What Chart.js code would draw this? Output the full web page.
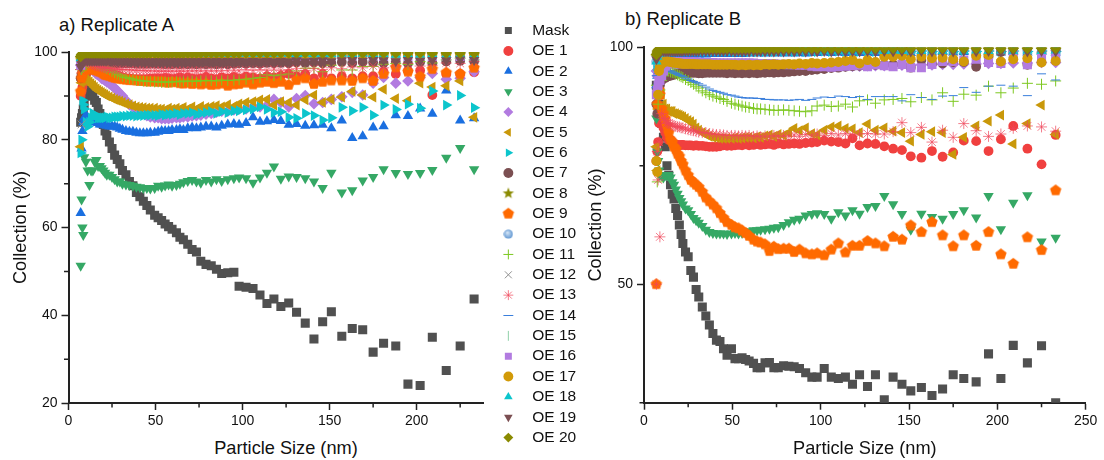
<!DOCTYPE html>
<html lang="en">
<head>
    <meta charset="UTF-8">
    <title>Collection vs Particle Size</title>
    <script src="https://cdn.jsdelivr.net/npm/chart.js"></script>
    <style>
        body { margin: 0; background: #fff; font-family: "Liberation Sans", Arial, sans-serif; color: #111; }
        canvas { position: absolute; top: 0; }
        .panel-title { position: absolute; font-size: 18.5px; white-space: nowrap; }
        .axis-title { position: absolute; font-size: 18.2px; white-space: nowrap; transform: translateX(-50%); }
    </style>
</head>
<body>
    <div class="panel-title" style="left:59px;top:14px">a) Replicate A</div>
    <div class="panel-title" style="left:625px;top:8px">b) Replicate B</div>
    <div class="axis-title" style="left:286px;top:438px">Particle Size (nm)</div>
    <canvas id="chartA" width="490" height="460" style="left:0"></canvas>
    <canvas id="chartB" width="529" height="460" style="left:575px"></canvas>
    <canvas id="legend" width="200" height="442" style="left:496px;top:18px"></canvas>

<script>
// particle sizes, nm (shared by both replicates)
const sizes = [
7,7.5,8,8.5,9,10,11,12,13,14,15,16,17,18,19,20,21,22,
23.5,25,26.5,28,29.5,31,33,35,37,39,41,43,45,47,
49.5,51.5,53.5,55.5,57.5,59.5,62,64,66,68.5,71,73.5,76,79,
82,85,88,91.5,95,98,102,106,110,114,118,122,
126.5,131,136,141,146,151,157,163,169,175,
181,188,195,202,209,217,225,233];

const seriesNames = ['Mask','OE 1','OE 2','OE 3','OE 4','OE 5','OE 6','OE 7','OE 8','OE 9','OE 10',
    'OE 11','OE 12','OE 13','OE 14','OE 15','OE 16','OE 17','OE 18','OE 19','OE 20'];

const xTicksA = [0,50,100,150,200], xMinorA = [25,75,125,175,225];
const yTicksA = [20,40,60,80,100], yMinorA = [30,50,70,90];
const xTicksB = [0,50,100,150,200,250], xMinorB = [25,75,125,175,225];
const yTicksB = [50,100], yMinorB = [25,75];

// Replicate A
const maskA = [84,85,86,87,88,90,91,92,91,90,89,88.5,87,86,85,83.5,82,81,
79.5,78,76.5,75.5,74.5,73,72,70.5,69.5,68,67,66,65,64,
62.8,62.2,61.6,60.8,60.2,59.6,58.8,57.8,57.2,56.2,55,54.4,52.3,51.6,
51.3,50.5,49.5,49.7,49.8,46.6,46.4,46.1,44.6,42.7,43.7,42,
42.8,40.7,38.2,34.6,38.5,40.8,35.2,37,36.7,31.6,
33.6,33,24.3,24,35,27.4,33,43.7];
const oe1A = [90,91,92,93,94,95,95.5,96,96.5,96.5,96.5,96.5,96.3,96,96,95.8,95.6,95.4,
95.2,95,94.8,94.6,94.4,94.2,94,94,93.8,93.8,93.8,93.8,93.8,93.9,
94,94,93.9,94.1,94,93.8,94,94.2,94,94.2,94,93.8,94,94.3,
94,93.8,94.2,94,94.3,94,94.4,94.2,94,94.5,94.2,94.6,
95,94.5,95,94,95,94,94.5,94,94.5,94.5,
95.5,95,95.8,95.8,90.2,95,95,95.4];
const oe2A = [63.3,78,82,84,85,85.5,85,84.5,84.5,84,84,84,83.8,83.5,83.5,83.5,83.3,83.2,
83,83,83,82.8,82.5,82.3,82,81.8,81.8,81.6,81.5,81.5,81.5,81.6,
81.6,81.8,82,82,82,82.2,82.2,82.4,82.2,82.6,82.8,82.6,82.8,83,
83,82.8,83.2,83.5,83.6,83.4,83.8,85.1,84.1,84.2,84.5,84.3,
83.4,83.6,83.2,83.3,83.4,82.6,84.4,80.4,80.8,82.8,
83.1,85.6,85.4,87.1,85.9,91.2,84.4,84.9];
const oe3A = [51.3,66.4,60,58.3,76,75,73,69.7,73,73,75,75.4,74,74,73.5,73,72.5,72,
72,71.5,71,70.5,70.5,70,69.8,69.7,69.5,69.3,69.2,69,69,68.9,
69,69.5,69.3,69.6,69.8,69.5,69.7,70,70.3,70.6,70.8,70.5,70.2,70.8,
70.5,71,70.6,71,71.2,71.4,71.2,70.2,71.4,72.5,73.9,71.1,
71.6,71.5,71.2,70.5,69,72.5,68,68.5,70.7,71.5,
73.3,72.4,72.2,72.4,73.1,75.9,78.1,73.3];
const oe4A = [97,97.5,98,98,98,97.8,97.5,97,96.5,96,95.5,95,94.8,94.5,94,93.8,93.5,93.2,
92.8,92.3,91.8,91.2,90.5,90,89,88,87.5,87,86.5,86,85.5,85.2,
85,85,84.8,84.8,84.8,84.9,85,85,85.2,85.2,85.4,85.5,85.6,85.8,
86,86.3,86.5,86.5,86.8,87,87,87.5,87.5,87.8,89.2,88.5,
87.5,89.4,90.1,88.2,88.5,89.2,89.8,90.8,90.2,92.9,
94.2,92.9,93.4,94.2,95.1,93.8,94,95.5];
const oe5A = [78.4,93,93.5,93.5,94,93.8,93.5,93.2,92.8,92.4,92,91.6,91.3,91,90.8,90.5,90.3,90,
89.8,89.5,89.2,89,88.8,88.5,88.2,88,87.7,87.5,87.4,87.3,87.2,87.2,
87.2,87,87,86.8,87.2,87,87.2,87,87.4,87,87.5,87,87.6,87.4,
87.6,87.8,87.5,88,87.6,88.2,88.5,88.7,89.1,89.2,87.9,88.7,
88.5,87.9,89.1,90.2,88.5,89.2,89.7,91,90.2,89.7,
91.5,89.4,88.9,92.9,92,92.3,93.4,85.1];
const oe6A = [77,80,89,88,87,84,83,84,85,86,85.5,85.5,85,85,85,85,85,85.2,
85,85,85.2,85.2,85.2,85.4,85.4,85.5,85.5,85.4,85.5,85.5,85.6,85.6,
85.6,85.5,85.8,85.6,85.8,85.8,86,85.7,86,86,86.2,85.8,86,86.2,
86.4,86,86.4,86.2,86.6,86.6,86.8,87,87.5,86.9,86.2,86.4,
85.1,84.9,86,85.5,84.5,85,87.4,86.6,87.4,85.6,
87.9,86.9,88.1,87.2,91.1,87.9,90.1,87.3];
const oe7A = [94,95,96,96.5,97,97.2,97.4,97.5,97.5,97.6,97.6,97.6,97.6,97.6,97.6,97.5,97.5,97.5,
97.5,97.5,97.4,97.4,97.5,97.4,97.4,97.4,97.4,97.3,97.3,97.3,97.3,97.3,
97.3,97.3,97.3,97.2,97.3,97.2,97.3,97.2,97.3,97.2,97.3,97.2,97.3,97.2,
97.3,97.2,97.3,97.2,97.3,97.4,97.3,97.4,97.3,97.5,97.4,97.5,
97.4,97.6,97.5,97.6,97.4,97.5,97.7,97.5,97.7,97.6,
97.5,97.8,97.4,97.7,97.5,97.8,98,97.9];
const oe8A = [98.5,99,99.2,99.3,99.4,99.5,99.5,99.6,99.6,99.6,99.6,99.6,99.6,99.6,99.6,99.6,99.6,99.6,
99.6,99.6,99.6,99.7,99.6,99.7,99.6,99.7,99.6,99.7,99.6,99.7,99.6,99.7,
99.6,99.7,99.6,99.7,99.6,99.7,99.6,99.7,99.6,99.7,99.6,99.7,99.6,99.7,
99.6,99.7,99.6,99.7,99.6,99.7,99.6,99.7,99.6,99.7,99.6,99.7,
99.6,99.7,99.6,99.7,99.6,99.7,99.6,99.7,99.6,99.7,
99.6,99.7,99.6,99.7,99.6,99.7,99.6,99.7];
const oe9A = [91,94,95,95.5,96,96,96.2,96.3,96.2,96,95.9,95.8,95.6,95.5,95.3,95,94.8,94.7,
94.5,94.3,94.1,94,93.9,93.8,93.7,93.6,93.6,93.5,93.4,93.4,93.3,93.3,
93.3,93.2,93.3,93.1,93,93.2,93.1,92.9,92.8,93,92.7,92.9,92.6,92.8,
92.5,92.6,92.8,92.3,92.6,92.7,93,92.6,93,93.2,92.9,93.2,
92.5,93.6,94,92.7,93.2,93.5,93.5,93.4,94,93.4,
95,96.5,95.5,94.4,96.1,95.3,95,96.4];
const oe10A = [98.8,99,99.2,99.3,99.4,99.5,99.5,99.5,99.6,99.5,99.6,99.5,99.6,99.5,99.6,99.5,99.6,99.5,
99.6,99.5,99.6,99.5,99.6,99.5,99.6,99.5,99.6,99.5,99.6,99.5,99.6,99.5,
99.6,99.5,99.6,99.5,99.6,99.5,99.6,99.5,99.6,99.5,99.6,99.5,99.6,99.5,
99.6,99.5,99.6,99.5,99.6,99.5,99.6,99.5,99.6,99.5,99.6,99.5,
99.6,99.5,99.6,99.5,99.6,99.5,99.6,99.5,99.6,99.5,
99.6,99.5,99.6,99.5,99.6,99.5,99.6,99.5];
const oe11A = [96,96,96.5,96.5,96.8,97,97.5,98,98,97.8,97.6,97.4,97.2,97,96.8,96.6,96.4,96.2,
96,95.6,95.3,95,94.8,94.5,94.2,94,93.8,93.6,93.5,93.4,93.3,93.3,
93.2,93.2,93.1,93.2,93.1,93.2,93.3,93.2,93.4,93.3,93.4,93.3,93.5,93.4,
93.5,93.4,93.6,93.5,93.6,93.7,93.8,94,94.2,94.8,94.6,94.8,
95,95.7,96.3,96.3,95.5,97,95.9,95.9,96.7,96.7,
97.2,97.4,97.2,97.8,97.5,98.2,98.6,98.2];
const oe12A = [98,83.5,98,98.5,99,99.2,99.3,99.4,99.4,99.4,99.4,99.4,99.5,99.4,99.5,99.4,99.5,99.4,
99.5,99.4,99.5,99.4,99.5,99.4,99.5,99.4,99.5,99.4,99.5,99.4,99.5,99.4,
99.5,99.4,99.5,99.4,99.5,99.4,99.5,99.4,99.5,99.4,99.5,99.4,99.5,99.4,
99.5,99.4,99.5,99.4,99.5,99.4,99.5,99.4,99.5,99.4,99.5,99.4,
99.5,99.4,99.5,99.4,99.5,99.4,99.5,99.4,99.5,99.4,
99.5,99.4,99.5,99.4,99.5,99.4,99.5,99.4];
const oe13A = [96,97,97,97.5,97.8,97.8,97.6,97.5,97.3,97.2,97,96.9,96.8,96.7,96.6,96.5,96.4,96.4,
96.3,96.2,96.2,96.1,96,96,96,95.9,95.9,95.8,95.8,95.8,95.7,95.7,
95.7,95.6,95.7,95.6,95.7,95.6,95.7,95.6,95.7,95.6,95.8,95.6,95.8,95.6,
95.8,95.6,95.8,95.7,95.9,95.7,96,95.8,96,95.8,96.1,95.8,
96,96.2,95.8,96.2,96,96.4,96.2,96.6,96.4,96.8,
96.4,96.8,97.4,96.8,97,97.5,97.4,97.8];
const oe14A = [98,98.5,99,99.2,99.3,99.4,99.4,99.5,99.5,99.5,99.5,99.5,99.5,99.5,99.5,99.5,99.5,99.5,
99.5,99.5,99.5,99.5,99.5,99.5,99.5,99.5,99.5,99.5,99.5,99.5,99.5,99.5,
99.4,99.5,99.4,99.5,99.4,99.5,99.4,99.5,99.4,99.5,99.4,99.5,99.4,99.5,
99.4,99.5,99.4,99.5,99.4,99.5,99.4,99.5,99.4,99.5,99.4,99.5,
99.4,99.3,99.4,99.3,99.4,99.3,99.4,99.3,99.2,99.3,
99.2,99.3,99.2,99.3,99.1,99.2,99.1,99.2];
const oe15A = [98.5,99,99.2,99.3,99.4,99.5,99.5,99.6,99.6,99.6,99.6,99.6,99.6,99.6,99.6,99.6,99.6,99.6,
99.6,99.6,99.6,99.6,99.6,99.6,99.6,99.6,99.6,99.6,99.6,99.6,99.6,99.6,
99.6,99.6,99.6,99.6,99.6,99.6,99.6,99.6,99.6,99.6,99.6,99.6,99.6,99.6,
99.5,99.6,99.5,99.6,99.5,99.6,99.5,99.6,99.5,99.6,99.5,99.6,
99.5,99.6,99.5,99.6,99.5,99.6,99.5,99.6,99.5,99.6,
99.5,99.6,99.5,99.6,99.5,99.6,99.5,99.6];
const oe16A = [97,97.8,98.5,99,99.1,99.2,99.3,99.3,99.3,99.3,99.3,99.3,99.3,99.3,99.3,99.3,99.3,99.3,
99.3,99.3,99.3,99.2,99.3,99.2,99.3,99.2,99.3,99.2,99.3,99.2,99.3,99.2,
99.3,99.2,99.3,99.2,99.3,99.2,99.3,99.2,99.3,99.2,99.3,99.2,99.3,99.2,
99.3,99.2,99.3,99.2,99.3,99.2,99.3,99.2,99.3,99.2,99.3,99.2,
99.2,99.1,99.2,99.1,99.2,99.1,99.2,99.1,99.2,99.1,
99,99.1,99,99.1,99,99.1,99,99.1];
const oe17A = [98.5,99,99.2,99.4,99.5,99.5,99.6,99.6,99.6,99.6,99.6,99.6,99.6,99.6,99.6,99.6,99.6,99.6,
99.6,99.6,99.6,99.6,99.6,99.6,99.6,99.6,99.6,99.6,99.6,99.6,99.6,99.6,
99.6,99.5,99.6,99.5,99.6,99.5,99.6,99.5,99.6,99.5,99.6,99.5,99.6,99.5,
99.6,99.5,99.6,99.5,99.6,99.5,99.6,99.5,99.6,99.5,99.6,99.5,
99.5,99.4,99.5,99.4,99.5,99.4,99.5,99.4,99.5,99.4,
99.4,99.5,99.4,99.5,99.4,99.5,99.4,99.5];
const oe18A = [98.6,99,99.3,99.5,99.6,99.6,99.7,99.7,99.7,99.7,99.7,99.7,99.7,99.7,99.7,99.7,99.7,99.7,
99.7,99.7,99.7,99.7,99.7,99.7,99.7,99.7,99.7,99.7,99.7,99.7,99.7,99.7,
99.6,99.7,99.6,99.7,99.6,99.7,99.6,99.7,99.6,99.7,99.6,99.7,99.6,99.7,
99.6,99.7,99.6,99.7,99.6,99.7,99.6,99.7,99.6,99.7,99.6,99.7,
99.6,99.5,99.6,99.5,99.6,99.5,99.6,99.5,99.6,99.5,
99.5,99.4,99.5,99.4,99.5,99.4,99.5,99.4];
const oe19A = [96.6,97.2,97.6,97.8,97.9,98,98,98,98,98,98,98,98,98,98,98,98,98,
98,97.9,98,97.9,98,97.9,98,97.9,98,97.9,98,97.9,98,97.9,
97.9,98,97.9,98,97.9,98,97.9,98,97.9,98,97.9,98,97.9,98,
97.9,98,97.9,98,97.9,98,97.9,98,97.9,98,97.9,98,
97.9,98.1,97.9,98,98.1,97.9,98.1,98.2,98,98.2,
98.1,97.9,98.2,98,98.2,98.1,98.3,98.2];
const oe20A = [99,99.4,99.6,99.7,99.8,99.8,99.8,99.8,99.8,99.8,99.8,99.8,99.8,99.8,99.8,99.8,99.8,99.8,
99.8,99.8,99.8,99.8,99.8,99.8,99.8,99.8,99.8,99.8,99.8,99.8,99.8,99.8,
99.8,99.8,99.8,99.8,99.8,99.8,99.8,99.8,99.8,99.8,99.8,99.8,99.8,99.8,
99.8,99.8,99.8,99.8,99.8,99.8,99.8,99.8,99.8,99.8,99.8,99.8,
99.8,99.8,99.8,99.8,99.8,99.8,99.8,99.8,99.8,99.8,
99.8,99.8,99.8,99.8,99.8,99.8,99.8,99.8];

// Replicate B
const maskB = [92,91,90,88,87,84,81,79,75,73,71,69,68,66,64.5,62.5,60.5,58.6,
56.8,55.8,52.9,51.5,48.9,47.3,45.2,43.3,41.4,39.6,38.2,37.9,36.4,35,
36.4,34.3,34.3,34.5,34.1,33.8,33.3,32.4,32.4,33.4,33.5,32.4,32.4,32.8,
32.7,32.6,32.2,31.3,30.4,30.4,32.2,30.4,30.1,30.4,28.9,30.9,
28.4,30.9,25.6,30.4,28.9,27.5,28.2,26.5,27.9,30.9,
30.1,29.4,35.3,30.1,37.1,33.4,37,25];
const oe1B = [76,78,80,84,85,84,83,82,81,80.5,80.5,80,79.5,79.5,79.4,79.3,79.4,79.4,
79.3,79.3,79.3,79.2,79.3,79.2,79.2,79.1,79,79,79,79.1,79.3,79.2,
79.2,79.3,79.4,79.3,79.5,79.3,79.4,79.6,79.4,79.5,79.6,79.4,79.7,79.5,
79.6,79.7,79.6,79.8,79.9,80,80.3,80.1,80,79.7,80.8,79.3,
79.7,79.6,79.1,78.6,78.3,77,76.7,78.1,76.9,77.8,
80.3,80.2,78.1,80.6,83.4,78.6,75.3,81.5];
const oe2B = [92,94,96,97,97.5,98,98.2,98.3,98.4,98.4,98.5,98.5,98.5,98.5,98.6,98.5,98.6,98.5,
98.6,98.5,98.6,98.5,98.6,98.5,98.6,98.5,98.6,98.6,98.7,98.6,98.7,98.6,
98.7,98.6,98.7,98.6,98.7,98.7,98.8,98.7,98.8,98.7,98.8,98.7,98.8,98.7,
98.8,98.7,98.8,98.7,98.8,98.8,98.9,98.8,98.9,98.8,98.9,98.8,
98.9,98.8,98.9,98.8,98.9,98.8,98.9,98.9,99,98.9,
99,98.9,99,98.9,99,98.9,99,98.9];
const oe3B = [85,78,76,74,73,73,72.5,73,73,73,72.5,71.5,71,70,69.1,68.2,67.5,66.8,
66,65.6,64.8,64,63.5,63,62.3,61.5,61,60.8,60.7,60.7,60.7,60.6,
60.7,60.8,60.7,60.8,61,61.2,61.4,61.4,61.5,61.6,61.7,61.9,62,62.5,
63.1,63.6,63.8,64.5,64.8,65,64.8,63.8,65.2,64.5,65.6,64.9,
66.3,66.5,68.6,66.9,64.8,61.5,64.9,64.2,63.8,64.8,
65.6,64.1,68.6,61.6,67.2,68.8,59,59.8];
const oe4B = [95,94,95,96,96.4,96.6,96.6,96.6,96.6,96.6,96.6,96.5,96.5,96.5,96.5,96.5,96.5,96.5,
96.5,96.4,96.5,96.4,96.5,96.4,96.5,96.4,96.4,96.4,96.4,96.4,96.4,96.3,
96.3,96.3,96.3,96.3,96.2,96.3,96.2,96.2,96.2,96.2,96.1,96.1,96.1,96,
96,96,95.9,95.9,95.9,95.9,95.9,95.9,96,96,96,96,
96.1,96.1,96.1,96.2,96.2,96.2,96.3,96.3,96.4,96.4,
96.5,96.5,96.6,96.6,96.7,96.7,96.8,96.8];
const oe5B = [79,74,87,90,92,90,88,87,87,86.5,86.5,86.5,86,86,85.8,85.7,85.5,85.3,
85,84.6,84.3,83.8,83,82.5,82,81.6,81.2,81,80.9,80.8,80.8,80.8,
80.8,80.9,80.8,80.9,81,81,80.9,81.1,81,81.3,81.5,81.2,81.6,81.4,
82,82.9,82.4,83,81.8,81.5,82.5,83.2,83.4,82.9,82.8,82,
83.8,82.5,83,82.3,82,80.2,81.6,82.2,82,77.4,
81,83.4,84.4,85.7,79.6,83.9,87.8,81.6];
const oe6B = [96,97,98,98.5,98.8,99,99.1,99.1,99.2,99.2,99.2,99.2,99.2,99.2,99.2,99.2,99.2,99.2,
99.2,99.2,99.2,99.2,99.2,99.2,99.2,99.2,99.2,99.2,99.2,99.2,99.2,99.2,
99.2,99.1,99.2,99.1,99.2,99.1,99.2,99.1,99.2,99.1,99.2,99.1,99.2,99.1,
99.2,99.1,99.2,99.1,99.2,99.1,99.2,99.1,99.2,99.1,99.2,99.1,
99.2,99.1,99.2,99.1,99.2,99.1,99.2,99.1,99.2,99.1,
99.2,99.1,99.2,99.1,99.2,99.1,99.2,99.1];
const oe7B = [88,86,88,91,92,93,93.5,93.5,93.8,94,94,94.2,94.2,94.4,94.4,94.5,94.5,94.5,
94.5,94.5,94.6,94.6,94.6,94.5,94.5,94.6,94.6,94.6,94.6,94.6,94.6,94.5,
94.6,94.5,94.6,94.5,94.6,94.5,94.6,94.5,94.6,94.6,94.7,94.6,94.7,94.7,
94.8,94.9,95,95,95.2,95.3,95.4,95.6,95.7,95.9,96,96.1,
96.2,96.3,96.3,96.4,96.4,95.7,97.3,96.6,96.6,96.9,
96.9,95.9,98,99,99,96.3,98.9,99.4];
const oe8B = [98,99,99.2,99.4,99.5,99.5,99.6,99.6,99.6,99.6,99.6,99.6,99.6,99.6,99.6,99.6,99.6,99.6,
99.6,99.6,99.7,99.6,99.7,99.6,99.7,99.6,99.7,99.6,99.7,99.6,99.7,99.6,
99.6,99.7,99.6,99.7,99.6,99.7,99.6,99.7,99.6,99.7,99.6,99.7,99.6,99.7,
99.6,99.7,99.6,99.7,99.6,99.7,99.6,99.7,99.6,99.7,99.6,99.7,
99.6,99.7,99.6,99.7,99.6,99.7,99.6,99.7,99.6,99.7,
99.6,99.7,99.6,99.7,99.6,99.7,99.6,99.7];
const oe9B = [50,88,90,91,90,87,86,85,83.5,82,80.5,80,79,78.5,77.5,77,76,75.3,
74,73,72,71.5,71,70.5,69.5,68.3,67.5,66.8,66,65,64,63.1,
62.5,62,61.8,61.3,60.8,60.2,59.4,59,58.8,58.4,57,57.9,57.4,57.5,
57.5,56.8,57.3,56.5,56.3,56.5,56.1,57.3,58.6,56.7,58.1,58.1,
59.1,58.6,58,60,59.4,62.4,61,63.1,60.3,58,
60.3,58.1,61,56.3,54.3,59.9,57.2,69.8];
const oe10B = [97,98,98.8,99,99.2,99.4,99.5,99.5,99.5,99.5,99.5,99.5,99.5,99.5,99.5,99.5,99.5,99.5,
99.5,99.5,99.5,99.5,99.5,99.5,99.5,99.5,99.5,99.5,99.5,99.5,99.5,99.5,
99.5,99.4,99.5,99.4,99.5,99.4,99.5,99.4,99.5,99.4,99.5,99.4,99.5,99.4,
99.5,99.4,99.5,99.4,99.5,99.4,99.5,99.4,99.5,99.4,99.5,99.4,
99.5,99.4,99.5,99.4,99.5,99.4,99.5,99.4,99.5,99.4,
99.5,99.4,99.5,99.4,99.5,99.4,99.5,99.4];
const oe11B = [92,71.6,88,90,91,93,94,94.5,95,95,94.8,94.7,94.6,94.4,94.2,94,93.8,93.6,
93.2,93,92.6,92.2,91.8,91.4,90.8,90.4,90,89.7,89.5,89.2,89,88.6,
88.2,88,87.8,87.6,87.4,87.3,87.1,87,87,86.9,86.8,86.7,86.7,86.8,
86.7,86.6,86.5,86.4,86.6,87.6,87.8,87.5,87.6,88,87.4,88.7,
88.9,88.2,88.9,89,89.2,88.5,89.4,88.9,90.4,88.6,
90.1,89.9,91.8,90.4,91.4,92.4,92.2,92.9];
const oe12B = [96,97.5,98.5,99,99.2,99.3,99.4,99.4,99.4,99.4,99.4,99.4,99.4,99.4,99.4,99.4,99.4,99.4,
99.4,99.4,99.4,99.4,99.4,99.4,99.4,99.4,99.4,99.4,99.4,99.4,99.4,99.4,
99.4,99.3,99.4,99.3,99.4,99.3,99.4,99.3,99.4,99.3,99.4,99.3,99.4,99.3,
99.4,99.3,99.4,99.3,99.4,99.3,99.4,99.3,99.4,99.3,99.4,99.3,
99.4,99.3,99.4,99.3,99.4,99.3,99.4,99.3,99.4,99.3,
99.4,99.3,99.4,99.3,99.4,99.3,99.4,99.3];
const oe13B = [50,78,72,80,60,86,85,84.5,84,84,83.8,83.6,83.4,83.3,83.2,83.2,83,83,
82.8,82.6,82.5,82.4,82.2,82.1,82,82,81.8,81.7,81.6,81.6,81.5,81.4,
81.4,81.4,81.3,81.4,81.3,81.4,81.2,81.3,81.1,81.3,81.1,81.4,81.2,81.4,
81.2,81.5,81.2,81.6,81.3,81.7,81.4,81.8,81.5,81.8,81.5,81.7,
81.8,81.7,81.7,82.2,84.1,82,83.1,80,82.5,81,
83.9,82.4,81.2,81.7,82.9,83.4,83.2,82.3];
const oe14B = [94,94,94.5,95,95,95.2,95.2,95.2,95.2,95,95,94.8,94.6,94.5,94.3,94.1,94,93.8,
93.5,93.3,93,92.8,92.6,92.3,92,91.6,91.2,90.9,90.7,90.5,90.3,90,
89.9,89.7,89.5,89.4,89.3,89.3,89.3,89.2,89.2,89,89,88.9,88.9,88.9,
88.8,88.9,89,88.8,89,89.3,89.5,89.4,89.7,89.6,89.4,89.6,
89,89.6,89.6,89.6,88.7,90,89.4,89,89.7,89.8,
91.5,90.5,91.8,92,91.8,89.8,94.4,93.1];
const oe15B = [97,98,98.8,99.1,99.3,99.4,99.5,99.5,99.5,99.5,99.5,99.5,99.5,99.5,99.5,99.5,99.5,99.5,
99.5,99.5,99.5,99.5,99.5,99.5,99.5,99.5,99.5,99.5,99.5,99.5,99.5,99.5,
99.4,99.5,99.4,99.5,99.4,99.5,99.4,99.5,99.4,99.5,99.4,99.5,99.4,99.5,
99.4,99.5,99.4,99.5,99.4,99.5,99.4,99.5,99.4,99.5,99.4,99.5,
99.4,99.5,99.4,99.5,99.4,99.5,99.4,99.5,99.4,99.5,
99.4,99.5,99.4,99.5,99.4,99.5,99.4,99.5];
const oe16B = [90,91,92,93,93,94,95,96,96.5,96.8,96.9,97,97,97,97,97,97,97,
96.9,96.9,96.9,96.9,96.9,96.8,96.8,96.8,96.8,96.8,96.7,96.7,96.7,96.7,
96.7,96.7,96.7,96.7,96.7,96.7,96.7,96.6,96.6,96.6,96.5,96.5,96.4,96.4,
96.3,96.3,96.2,96.2,96,95.9,95.9,95.8,95.9,96,96.1,96.2,
95.9,96.3,96.1,95.9,96.4,95.7,95.7,96.4,97,97,
97.3,97.5,96.8,96.6,98.7,96.3,97.9,98];
const oe17B = [76,73.7,90,95,96,96.5,96.8,97,97,97,96.9,96.8,96.8,96.7,96.7,96.6,96.6,96.5,
96.5,96.5,96.5,96.5,96.4,96.4,96.4,96.4,96.4,96.3,96.3,96.3,96.3,96.3,
96.3,96.3,96.2,96.3,96.2,96.3,96.2,96.3,96.2,96.4,96.3,96.4,96.3,96.4,
96.5,96.4,96.6,96.5,96.7,96.6,96.7,96.8,96.9,97.1,97.3,96.6,
97.3,96.9,98,98,98.2,97.5,98,97.7,97.8,97.5,
97,98.2,98.4,97,97.5,97.7,96.8,97.1];
const oe18B = [97,98,98.6,99,99.1,99.2,99.3,99.3,99.3,99.3,99.3,99.3,99.3,99.3,99.3,99.3,99.3,99.3,
99.3,99.3,99.3,99.3,99.3,99.3,99.3,99.3,99.3,99.3,99.3,99.3,99.3,99.3,
99.2,99.3,99.2,99.3,99.2,99.3,99.2,99.3,99.2,99.3,99.2,99.3,99.2,99.3,
99.2,99.3,99.2,99.3,99.2,99.3,99.2,99.3,99.2,99.3,99.2,99.3,
99.2,99.3,99.2,99.3,99.2,99.3,99.2,99.3,99.2,99.3,
99.2,99.3,99.2,99.3,99.2,99.3,99.2,99.3];
const oe19B = [97.5,98,98.6,99,99.1,99.2,99.2,99.2,99.2,99.2,99.2,99.2,99.2,99.2,99.2,99.2,99.2,99.2,
99.2,99.2,99.2,99.2,99.2,99.2,99.2,99.2,99.2,99.2,99.2,99.2,99.2,99.2,
99.2,99.1,99.2,99.1,99.2,99.1,99.2,99.1,99.2,99.1,99.2,99.1,99.2,99.1,
99.2,99.1,99.2,99.1,99.2,99.1,99.2,99.1,99.2,99.1,99.2,99.1,
99.2,99.1,99.2,99.1,99.2,99.1,99.2,99.1,99.2,99.1,
99.2,99.1,99.2,99.1,99.2,99.1,99.2,99.1];
const oe20B = [98.5,99,99.4,99.6,99.7,99.8,99.8,99.8,99.8,99.8,99.8,99.8,99.8,99.8,99.8,99.8,99.8,99.8,
99.8,99.8,99.8,99.8,99.8,99.8,99.8,99.8,99.8,99.8,99.8,99.8,99.8,99.8,
99.8,99.8,99.8,99.8,99.8,99.8,99.8,99.8,99.8,99.8,99.8,99.8,99.8,99.8,
99.8,99.8,99.8,99.8,99.8,99.8,99.8,99.8,99.8,99.8,99.8,99.8,
99.8,99.8,99.8,99.8,99.8,99.8,99.8,99.8,99.8,99.8,
99.8,99.8,99.8,99.8,99.8,99.8,99.8,99.8];

const seriesA = [maskA,oe1A,oe2A,oe3A,oe4A,oe5A,oe6A,oe7A,oe8A,oe9A,oe10A,oe11A,oe12A,oe13A,oe14A,oe15A,oe16A,oe17A,oe18A,oe19A,oe20A];
const seriesB = [maskB,oe1B,oe2B,oe3B,oe4B,oe5B,oe6B,oe7B,oe8B,oe9B,oe10B,oe11B,oe12B,oe13B,oe14B,oe15B,oe16B,oe17B,oe18B,oe19B,oe20B];

// small canvas markers for the shapes Chart.js has no built-in for
function polygonMarker(color, radius, corners, inner) {
    const c = document.createElement('canvas');
    c.width = c.height = radius * 2 + 2;
    const g = c.getContext('2d');
    const mid = radius + 1;
    g.fillStyle = color;
    g.beginPath();
    for (let i = 0; i < corners; i++) {
        const a = -Math.PI / 2 + i * 2 * Math.PI / corners;
        g.lineTo(mid + radius * Math.cos(a), mid + radius * Math.sin(a));
        if (inner) {
            const b = a + Math.PI / corners;
            g.lineTo(mid + inner * Math.cos(b), mid + inner * Math.sin(b));
        }
    }
    g.closePath();
    g.fill();
    return c;
}

function ballMarker() {
    const c = document.createElement('canvas');
    c.width = c.height = 10;
    const g = c.getContext('2d');
    const grad = g.createRadialGradient(4, 3.5, 0.5, 5, 5, 5);
    grad.addColorStop(0, '#cfe2f5');
    grad.addColorStop(1, '#5a92d0');
    g.fillStyle = grad;
    g.arc(5, 5, 4.6, 0, Math.PI * 2);
    g.fill();
    return c;
}

const markers = [
    { style: 'rect', color: '#505050', r: 6.4 },
    { style: 'circle', color: '#f0403f', r: 4.9 },
    { style: 'triangle', color: '#1a6fe0', r: 6 },
    { style: 'triangle', color: '#35a865', r: 6, rot: 180 },
    { style: 'rectRot', color: '#b27be0', r: 5.8 },
    { style: 'triangle', color: '#c9980a', r: 6.2, rot: 270 },
    { style: 'triangle', color: '#0cc5cc', r: 6.2, rot: 90 },
    { style: 'circle', color: '#7b4f52', r: 4.9 },
    { style: polygonMarker('#8a8a00', 6, 5, 2.5), color: '#8a8a00', r: 6 },
    { style: polygonMarker('#ff6a00', 6, 5), color: '#ff6a00', r: 6 },
    { style: ballMarker(), color: '#6aa0d8', r: 5 },
    { style: 'cross', color: '#7dc820', r: 5.5, line: 1 },
    { style: 'crossRot', color: '#909090', r: 5.5, line: 1 },
    { style: 'star', color: 'rgba(240,70,90,0.7)', r: 5.5, line: 1 },
    { style: 'line', color: '#3a7fdc', r: 4.5, line: 1 },
    { style: 'line', color: '#8fd0a8', r: 4.5, line: 1, rot: 90 },
    { style: 'rect', color: '#b27be0', r: 6.4 },
    { style: 'circle', color: '#d29a08', r: 5 },
    { style: 'triangle', color: '#0cc5cc', r: 6 },
    { style: 'triangle', color: '#7b4f52', r: 6, rot: 180 },
    { style: 'rectRot', color: '#8a8a00', r: 5.8 }
];

function buildDatasets(series) {
    return seriesNames.map((name, i) => ({
        // legend rows get two leading spaces to push the text clear of the marker
        label: series ? name : '  ' + name,
        data: series ? sizes.map((x, j) => ({ x: x, y: series[i][j] })) : [],
        pointStyle: markers[i].style,
        pointRadius: markers[i].r,
        pointRotation: markers[i].rot || 0,
        pointBackgroundColor: markers[i].color,
        pointBorderColor: markers[i].color,
        pointBorderWidth: markers[i].line || 0,
        backgroundColor: markers[i].color,
        borderColor: markers[i].color,
        borderWidth: markers[i].line || 0,
        order: seriesNames.length - i, // later series on top
        showLine: false
    }));
}

// short unlabelled ticks, placed with the chart's own scales
const minorTicks = {
    id: 'minorTicks',
    afterDraw(chart, args, opts) {
        const { ctx, scales: { x, y } } = chart;
        ctx.save();
        ctx.strokeStyle = '#222';
        ctx.lineWidth = 1.5;
        ctx.beginPath();
        opts.x.forEach(v => {
            const px = x.getPixelForValue(v);
            ctx.moveTo(px, y.bottom);
            ctx.lineTo(px, y.bottom + 4.5);
        });
        opts.y.forEach(v => {
            const py = y.getPixelForValue(v);
            ctx.moveTo(x.left, py);
            ctx.lineTo(x.left - 4.5, py);
        });
        ctx.stroke();
        ctx.restore();
    }
};

function axis(min, max, tickValues, size, horizontal, titleText) {
    return {
        min: min,
        max: max,
        afterBuildTicks: s => { s.ticks = tickValues.map(v => ({ value: v })); },
        afterFit: s => { if (horizontal) s.height = size; else s.width = size; },
        border: { color: '#222', width: 2 },
        grid: { drawOnChartArea: false, drawTicks: true, tickLength: 7, tickColor: '#222', tickWidth: 1.5 },
        ticks: { color: '#111', font: { size: 14, family: 'Liberation Sans' }, padding: horizontal ? 3 : 4, maxRotation: 0, autoSkip: false },
        title: {
            display: !!titleText,
            text: titleText,
            color: '#111',
            font: { size: 18.2, family: 'Liberation Sans' },
            padding: horizontal ? { top: 7, bottom: 0 } : { top: 10, bottom: 6 }
        }
    };
}

function panel(id, series, area, xMax, yMin, xTicks, yTicks, xMinor, yMinor, xTitle) {
    new Chart(document.getElementById(id), {
        type: 'scatter',
        data: { datasets: buildDatasets(series) },
        plugins: [minorTicks],
        options: {
            responsive: false,
            animation: false,
            layout: { padding: area.padding },
            plugins: { legend: { display: false }, tooltip: { enabled: false }, minorTicks: { x: xMinor, y: yMinor } },
            scales: {
                x: axis(0, xMax, xTicks, area.xHeight, true, xTitle),
                y: axis(yMin, 100, yTicks, area.yWidth, false, 'Collection (%)')
            }
        }
    });
}

panel('chartA', seriesA, { padding: { left: 0, right: 5, top: 52, bottom: 0 }, xHeight: 57, yWidth: 68.5 },
    238.4, 20, xTicksA, yTicksA, xMinorA, yMinorA, '');
panel('chartB', seriesB, { padding: { left: 0, right: 18.3, top: 47.3, bottom: 0 }, xHeight: 57.3, yWidth: 69 },
    250, 25, xTicksB, yTicksB, xMinorB, yMinorB, 'Particle Size (nm)');

// legend gets its own canvas between the two panels
new Chart(document.getElementById('legend'), {
    type: 'scatter',
    data: { datasets: buildDatasets(null) },
    options: {
        responsive: false,
        animation: false,
        scales: { x: { display: false }, y: { display: false } },
        plugins: {
            tooltip: { enabled: false },
            legend: {
                position: 'left',
                align: 'start',
                labels: {
                    usePointStyle: true,
                    boxWidth: 15,
                    boxHeight: 7,
                    padding: 4.85,
                    color: '#111',
                    font: { size: 15.5, family: 'Liberation Sans', lineHeight: 1.2 },
                    sort: (a, b) => a.datasetIndex - b.datasetIndex
                }
            }
        }
    }
});
</script>
</body>
</html>
